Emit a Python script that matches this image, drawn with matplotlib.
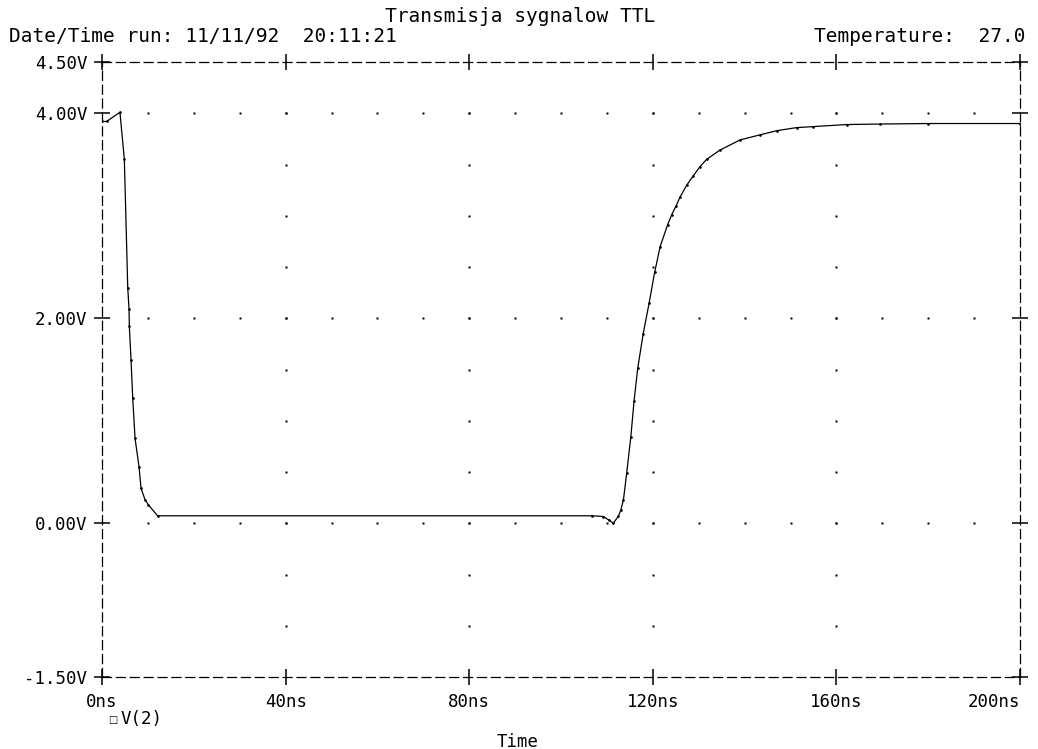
import numpy as np
import matplotlib.pyplot as plt

plt.rcParams['font.family'] = ['DejaVu Sans Mono', 'DejaVu Sans']
plt.rcParams['lines.scale_dashes'] = False

# V(2) transient, time in ns, voltage in V
t_ns = [0.0, 1.0, 3.9, 4.86, 5.6, 5.88, 5.95, 6.32, 6.69, 7.19, 8.06, 8.5,
        9.37, 10.1, 12.1, 106.8, 109.2, 110.5, 111.4, 112.5, 113.0, 113.6,
        114.3, 115.2, 115.9, 116.7, 117.9, 119.2, 120.4, 121.6, 123.2, 124.1,
        125.1, 125.9, 127.4, 128.8, 130.3, 131.7, 134.6, 139.0, 143.4, 147.0,
        151.3, 155.0, 162.2, 169.5, 180.0, 200.0]
v2 = [3.92, 3.92, 4.01, 3.55, 2.30, 2.09, 1.92, 1.59, 1.22, 0.83, 0.55, 0.34,
      0.23, 0.18, 0.073, 0.073, 0.066, 0.03, 0.0, 0.07, 0.125, 0.23,
      0.49, 0.84, 1.19, 1.51, 1.85, 2.15, 2.45, 2.70, 2.91, 3.01,
      3.10, 3.18, 3.30, 3.39, 3.48, 3.55, 3.64, 3.74, 3.79, 3.83,
      3.86, 3.87, 3.89, 3.895, 3.90, 3.90]

x_ticks = [0, 40, 80, 120, 160, 200]
x_labels = ['0ns', '40ns', '80ns', '120ns', '160ns', '200ns']
y_ticks = [-1.5, 0.0, 2.0, 4.0, 4.5]
y_labels = ['-1.50V', '0.00V', '2.00V', '4.00V', '4.50V']

title = 'Transmisja sygnalow TTL'
run_info = 'Date/Time run: 11/11/92  20:11:21'
temp_info = 'Temperature:  27.0'

fig = plt.figure(figsize=(10.38, 7.49), dpi=100)
ax = fig.add_axes([0.0983, 0.0961, 0.8844, 0.8211])

# dotted grid: rows at the labelled voltages, columns at the labelled times
for v in [0.0, 2.0, 4.0]:
    xs = np.arange(10, 200, 10)
    ax.plot(xs, np.full_like(xs, v, dtype=float), 's', ms=1.6, color='black',
            mec='none')
for tc in [40, 80, 120, 160]:
    ys = np.arange(-1.0, 4.5, 0.5)
    ax.plot(np.full_like(ys, tc), ys, 's', ms=1.6, color='black', mec='none')

ax.plot(t_ns, v2, color='black', lw=0.9, marker='.', ms=1.8)

ax.set_xlim(0, 200)
ax.set_ylim(-1.5, 4.5)
ax.set_xticks(x_ticks)
ax.set_xticklabels(x_labels)
ax.set_yticks(y_ticks)
ax.set_yticklabels(y_labels)
ax.tick_params(direction='inout', length=11, width=1.1, top=True, right=True,
               labelsize=12.5, color='black')
ax.tick_params(axis='x', pad=6)
ax.tick_params(axis='y', pad=5)
ax.get_xticklabels()[-1].set_horizontalalignment('right')
ax.get_xticklabels()[0].set_horizontalalignment('center')

for sp in ax.spines.values():
    sp.set_linestyle((0, (6.5, 3.5)))
    sp.set_linewidth(0.9)

fig.text(0.501, 1 - 16.5 / 749, title, ha='center', va='center', fontsize=14)
fig.text(0.009, 1 - 37 / 749, run_info, ha='left', va='center', fontsize=14)
fig.text(0.988, 1 - 37 / 749, temp_info, ha='right', va='center', fontsize=14)

# legend entry and axis title
fig.text(0.1045, 1 - 719.5 / 749, '\u25a1', ha='left', va='center', fontsize=7,
         family='DejaVu Sans')
fig.text(0.1165, 1 - 719 / 749, 'V(2)', ha='left', va='center', fontsize=12.5)
fig.text(0.499, 1 - 742 / 749, 'Time', ha='center', va='center', fontsize=12.5)

fig.savefig('out.png', dpi=100, facecolor='white')
